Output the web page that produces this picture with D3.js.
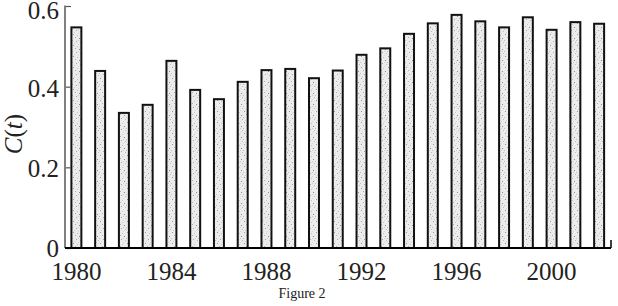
<!DOCTYPE html>
<html><head><meta charset="utf-8">
<script src="https://cdn.jsdelivr.net/npm/d3@7"></script>
<style>body{margin:0;background:#fff}svg{display:block}</style>
</head><body>
<script>
const years = ["1980","1981","1982","1983","1984","1985","1986","1987","1988","1989","1990","1991","1992","1993","1994","1995","1996","1997","1998","1999","2000","2001","2002"];
const values = [0.547,0.439,0.335,0.355,0.464,0.392,0.369,0.412,0.441,0.444,0.421,0.440,0.479,0.495,0.531,0.557,0.578,0.562,0.547,0.572,0.541,0.560,0.556];
const yTicks = [0,0.2,0.4,0.6];
const xTickLabels = ["1980","1984","1988","1992","1996","2000"];

(function(){
const W=618,H=306;
const svg=d3.select("body").append("svg").attr("width",W).attr("height",H);
const mL=65,mR=611,mT=6,mB=248;
const x=d3.scaleBand().domain(years).range([mL-0.5,mR]).paddingInner(0.58).paddingOuter(0.29);
const y=d3.scaleLinear().domain([0,0.6]).range([mB,mT]);

const defs=svg.append("defs");
const pat=defs.append("pattern").attr("id","speck").attr("patternUnits","userSpaceOnUse").attr("width",9).attr("height",11);
pat.append("rect").attr("width",9).attr("height",11).attr("fill","#ececec");
const specks=[[1,1,"#9a9a9a"],[5,2,"#c4c4c4"],[3,4,"#b0b0b0"],[7,5,"#8c8c8c"],[0,7,"#c0c0c0"],[4,8,"#a6a6a6"],[8,9,"#bcbcbc"],[2,10,"#d0d0d0"],[6,0,"#d8d8d8"],[6,7,"#cfcfcf"]];
specks.forEach(s=>pat.append("rect").attr("x",s[0]).attr("y",s[1]).attr("width",1).attr("height",1).attr("fill",s[2]));

svg.append("g").selectAll("rect").data(values).join("rect")
  .attr("x",(d,i)=>x(years[i]))
  .attr("y",d=>y(d))
  .attr("width",x.bandwidth())
  .attr("height",d=>mB-y(d))
  .attr("fill","url(#speck)")
  .attr("stroke","#111")
  .attr("stroke-width",2);

const ya=svg.append("g").attr("transform",`translate(${mL},0)`)
  .call(d3.axisRight(y).tickValues(yTicks).tickSize(6).tickFormat(""));
ya.select(".domain").remove();
ya.selectAll("line").attr("stroke","#555").attr("stroke-width",1.2);
svg.append("line").attr("x1",mL).attr("x2",mL).attr("y1",mT-0.5).attr("y2",mB).attr("stroke","#808080").attr("stroke-width",2);
svg.append("g").selectAll("text").data(yTicks).join("text")
  .attr("x",mL-6).attr("y",d=>Math.max(y(d)+(d===0?9:10),19))
  .attr("text-anchor","end")
  .attr("font-family","Liberation Serif, serif").attr("font-size",25).attr("fill","#222")
  .text(d=>d===0?"0":d3.format(".1f")(d));

svg.append("line").attr("x1",mL).attr("x2",mR).attr("y1",mB).attr("y2",mB).attr("stroke","#000").attr("stroke-width",2);
svg.append("line").attr("x1",mR).attr("x2",mR).attr("y1",mB).attr("y2",mB-8).attr("stroke","#000").attr("stroke-width",1.5);
svg.append("g").selectAll("text").data(xTickLabels).join("text")
  .attr("x",d=>x(d)+x.bandwidth()/2).attr("y",280)
  .attr("text-anchor","middle")
  .attr("font-family","Liberation Serif, serif").attr("font-size",25).attr("fill","#222")
  .text(d=>d);

const yl=svg.append("text").attr("transform","translate(22,134) rotate(-90)")
  .attr("text-anchor","middle").attr("font-family","Liberation Serif, serif").attr("font-size",25).attr("fill","#222");
yl.append("tspan").attr("font-style","italic").text("C");
yl.append("tspan").text("(");
yl.append("tspan").attr("font-style","italic").text("t");
yl.append("tspan").text(")");

svg.append("text").attr("x",302).attr("y",298).attr("text-anchor","middle")
  .attr("font-family","Liberation Serif, serif").attr("font-size",14).attr("fill","#222").text("Figure 2");
})();
</script>
</body></html>
